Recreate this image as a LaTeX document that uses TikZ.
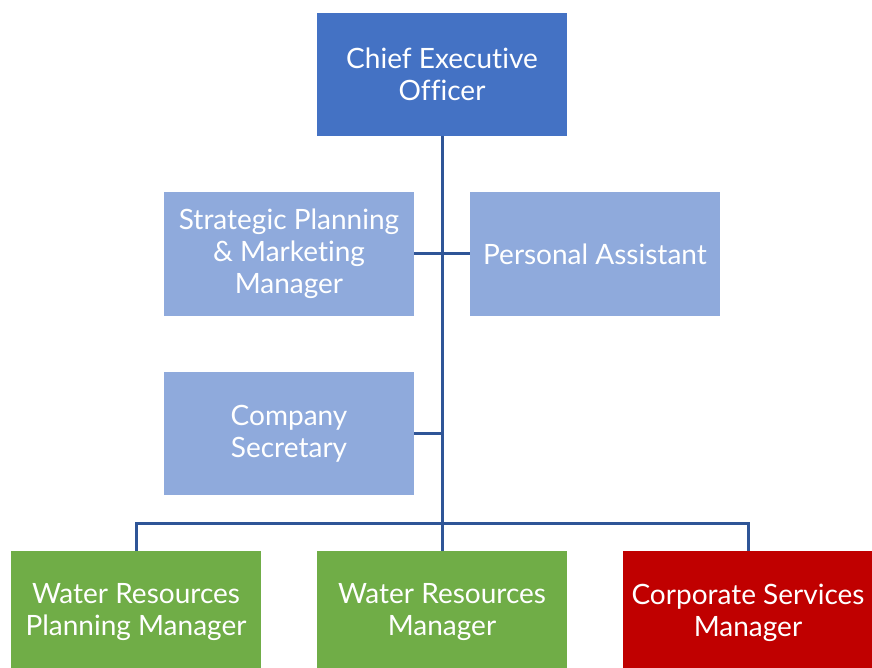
\documentclass[tikz,border=0pt]{standalone}
\usepackage{fontspec}
\setmainfont{Lato}[RawFeature={-liga;-dlig;-clig}]
\definecolor{ceoblue}{HTML}{4472C4}
\definecolor{staffblue}{HTML}{8FAADC}
\definecolor{mgrgreen}{HTML}{70AD47}
\definecolor{mgrred}{HTML}{C00000}
\definecolor{linkblue}{HTML}{2F5597}
\begin{document}
\begin{tikzpicture}[x=1pt,y=-1pt,
  box/.style={draw=none,minimum width=250pt,minimum height=123pt,text=white,
    align=center,font=\fontsize{28}{32}\selectfont,inner sep=0pt},
  ceo/.style={box,fill=ceoblue},
  staff/.style={box,fill=staffblue},
  green/.style={box,fill=mgrgreen},
  red/.style={box,fill=mgrred},
  link/.style={draw=linkblue,line width=3pt}]
\useasboundingbox (0,0) rectangle (872,668);
\clip (0,0) rectangle (872,668);
\fill[white] (0,0) rectangle (872,668);
% boxes
\node[ceo]   (ceo) at (442,74.5) {Chief Executive\\Officer};
\node[staff] (spm) at (289,254)  {Strategic Planning\\\& Marketing\\Manager};
\node[staff] (pa)  at (595,254)  {Personal Assistant};
\node[staff] (cs)  at (289,433.5) {Company\\Secretary};
\node[green] (wrp) at (136,612.5) {Water Resources\\Planning Manager};
\node[green] (wr)  at (442,612.5) {Water Resources\\Manager};
\node[red]   (csm) at (748,612.5) {Corporate Services\\Manager};
% connectors
\coordinate (bus) at (442,523);
\draw[link] (ceo.south) -- (bus);
\draw[link] (spm.east) -- (pa.west);
\draw[link] (cs.east) -- (cs.east -| ceo.south);
\draw[link] (wrp.north) |- (bus) -| (csm.north);
\draw[link] (bus) -- (wr.north);
\end{tikzpicture}
\end{document}
